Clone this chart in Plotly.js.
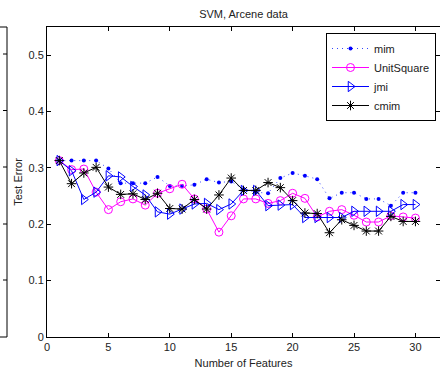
<!DOCTYPE html>
<html>
<head>
<meta charset="utf-8">
<script src="https://cdn.plot.ly/plotly-3.0.1.min.js"></script>
<style>html,body{margin:0;padding:0;background:#fff}#chart{width:440px;height:369px}</style>
</head>
<body>
<div id="chart"></div>
<script>
const features = [1,2,3,4,5,6,7,8,9,10,11,12,13,14,15,16,17,18,19,20,21,22,23,24,25,26,27,28,29,30];
const mim = [0.313,0.313,0.313,0.313,0.299,0.273,0.273,0.273,0.284,0.268,0.268,0.270,0.280,0.274,0.276,0.262,0.257,0.255,0.282,0.291,0.286,0.280,0.246,0.256,0.256,0.245,0.245,0.233,0.256,0.256];
const unitSquare = [0.313,0.297,0.298,0.257,0.226,0.240,0.245,0.234,0.255,0.263,0.271,0.245,0.227,0.186,0.215,0.245,0.245,0.237,0.242,0.255,0.246,0.213,0.223,0.226,0.216,0.204,0.204,0.215,0.213,0.211];
const jmi = [0.313,0.295,0.244,0.257,0.286,0.284,0.267,0.252,0.222,0.218,0.227,0.236,0.237,0.226,0.236,0.260,0.260,0.233,0.234,0.235,0.212,0.212,0.212,0.212,0.223,0.223,0.223,0.223,0.235,0.235];
const cmim = [0.313,0.272,0.291,0.301,0.266,0.253,0.254,0.244,0.255,0.228,0.227,0.244,0.227,0.252,0.282,0.260,0.260,0.274,0.265,0.242,0.220,0.219,0.185,0.208,0.198,0.188,0.188,0.214,0.205,0.205];
const xTicks = [0,5,10,15,20,25,30];
const yTicks = [0,0.1,0.2,0.3,0.4,0.5];
const yTickText = ['0','0.1','0.2','0.3','0.4','0.5'];

const FONT = 'Liberation Sans, Arial, Helvetica, sans-serif';
const traces = [
  {x: features, y: mim, name: 'mim', mode: 'lines+markers',
   line: {color: '#3344ff', width: 1, dash: '1px,4px'},
   marker: {symbol: 'circle', size: 4, color: '#0000ff'}},
  {x: features, y: unitSquare, name: 'UnitSquare', mode: 'lines+markers',
   line: {color: '#ff00ff', width: 1},
   marker: {symbol: 'circle-open', size: 8, color: '#ff00ff', line: {width: 1}}},
  {x: features, y: jmi, name: 'jmi', mode: 'lines+markers',
   line: {color: '#0000ff', width: 1},
   marker: {symbol: 'triangle-right-open', size: 9, color: '#0000ff', line: {width: 1}}},
  {x: features, y: cmim, name: 'cmim', mode: 'lines+markers',
   line: {color: '#000000', width: 1},
   marker: {symbol: 'asterisk-open', size: 8, color: '#000000', line: {width: 1}}}
];

// Left neighbour plot fragment (right edge of an adjacent subplot)
const px = v => (v - 47) / 393;          // pixel x -> paper
const py = v => (337 - v) / 310;         // pixel y -> paper
const shapes = [
  {type:'line', xref:'paper', yref:'paper', x0:px(7), x1:px(7), y0:py(27), y1:py(337), line:{color:'#000', width:1}},
  {type:'line', xref:'paper', yref:'paper', x0:px(0), x1:px(7), y0:py(27), y1:py(27), line:{color:'#000', width:1}},
  {type:'line', xref:'paper', yref:'paper', x0:px(0), x1:px(7), y0:py(337), y1:py(337), line:{color:'#000', width:1}}
];
[54,110.5,167,224,280].forEach(v => shapes.push(
  {type:'line', xref:'paper', yref:'paper', x0:px(3), x1:px(7), y0:py(v), y1:py(v), line:{color:'#000', width:1}}));

const layout = {
  width: 440, height: 369,
  margin: {l: 47, r: 0, t: 27, b: 32, pad: 0},
  paper_bgcolor: '#fff', plot_bgcolor: '#fff',
  font: {family: FONT, size: 11, color: '#222'},
  title: {text: 'SVM, Arcene data', font: {family: FONT, size: 11, color: '#222'},
          x: 0.5, xref: 'paper', y: 1 - 14/369, yref: 'container', yanchor: 'middle', xanchor: 'center'},
  xaxis: {range: [0, 32], tickvals: xTicks, ticktext: xTicks.map(String),
          ticks: 'inside', ticklen: 4, tickcolor: '#000', showline: true, linecolor: '#000', linewidth: 1,
          mirror: 'ticks', showgrid: false, zeroline: false,
          title: {text: 'Number of Features', font: {family: FONT, size: 11, color: '#222'}, standoff: 7},
          tickfont: {family: FONT, size: 11, color: '#222'}},
  yaxis: {range: [0, 0.55], tickvals: yTicks, ticktext: yTickText,
          ticks: 'inside', ticklen: 4, tickcolor: '#000', showline: true, linecolor: '#000', linewidth: 1,
          mirror: 'ticks', showgrid: false, zeroline: false,
          title: {text: 'Test Error', font: {family: FONT, size: 11, color: '#222'}, standoff: 3},
          tickfont: {family: FONT, size: 11, color: '#222'}},
  legend: {x: (436-47)/393, xanchor: 'right', y: (337-33)/310, yanchor: 'top',
           bgcolor: '#fff', bordercolor: '#000', borderwidth: 1,
           font: {family: FONT, size: 11, color: '#222'}, itemwidth: 37, tracegroupgap: 0},
  showlegend: true,
  shapes: shapes
};

Plotly.newPlot('chart', traces, layout, {displayModeBar: false, staticPlot: true});
</script>
</body>
</html>
